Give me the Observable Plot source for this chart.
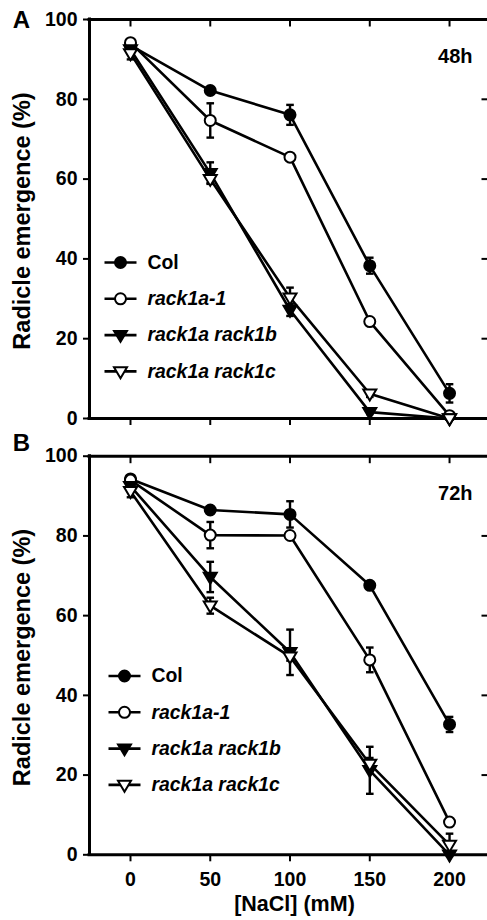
<!DOCTYPE html>
<html><head><meta charset="utf-8">
<script src="https://cdn.jsdelivr.net/npm/d3@7"></script>
<script src="https://cdn.jsdelivr.net/npm/@observablehq/plot@0.6"></script>
<style>
body{margin:0;background:#fff;}
#fig{position:relative;width:487px;height:920px;overflow:hidden;background:#fff;}
#fig svg{position:absolute;left:0;display:block;overflow:visible;}
</style></head><body><div id="fig"></div>
<script>
// ---- data ----
const nacl = [0, 50, 100, 150, 200];
const yTicks = [0, 20, 40, 60, 80, 100];
const genotypes = ["Col", "rack1a-1", "rack1a rack1b", "rack1a rack1c"];

// 48 h (panel A)
const col48      = [93.5, 82.2, 76.1, 38.3, 6.3];
const col48Err   = [1.0, 0.8, 2.5, 2.0, 2.3];
const r1a48      = [94.2, 74.7, 65.5, 24.3, 0.7];
const r1a48Err   = [0.8, 4.3, 0.8, 0.8, 0.5];
const r1ab48     = [92.5, 61.5, 27.2, 1.6, 0];
const r1ab48Err  = [1.0, 2.7, 1.5, 0.5, 0];
const r1ac48     = [91.5, 60.0, 30.3, 6.2, 0];
const r1ac48Err  = [1.5, 1.0, 2.5, 0.8, 0];

// 72 h (panel B)
const col72      = [94.3, 86.5, 85.4, 67.6, 32.7];
const col72Err   = [0.8, 0.8, 3.3, 0.8, 1.9];
const r1a72      = [94.0, 80.2, 80.1, 48.9, 8.2];
const r1a72Err   = [1.0, 3.3, 0.8, 3.1, 0.8];
const r1ab72     = [92.5, 69.7, 50.8, 21.2, 0];
const r1ab72Err  = [1.0, 3.8, 5.7, 5.9, 0];
const r1ac72     = [91.2, 62.5, 49.7, 22.8, 2.5];
const r1ac72Err  = [1.5, 2.0, 1.0, 1.5, 2.8];

const panelA = {letter: "A", time: "48h", values: [col48, r1a48, r1ab48, r1ac48], errors: [col48Err, r1a48Err, r1ab48Err, r1ac48Err]};
const panelB = {letter: "B", time: "72h", values: [col72, r1a72, r1ab72, r1ac72], errors: [col72Err, r1a72Err, r1ab72Err, r1ac72Err]};

// ---- styling ----
const FONT = "'Liberation Sans', Arial, sans-serif";
const W = 487, ML = 89;
const xDomain = [-25.7, 223.8];
const triDown = {draw(ctx) { ctx.moveTo(-6.5, -4.2); ctx.lineTo(6.5, -4.2); ctx.lineTo(0, 6.8); ctx.closePath(); }};
const circ = {draw(ctx) { ctx.moveTo(5.5, 0); ctx.arc(0, 0, 5.5, 0, 2 * Math.PI); ctx.closePath(); }};
const hCap = {draw(ctx) { ctx.moveTo(-3.8, 0); ctx.lineTo(3.8, 0); }};
const hSeg = {draw(ctx) { ctx.moveTo(-16, 0); ctx.lineTo(16, 0); }};
const tickDown = {draw(ctx) { ctx.moveTo(0, 0); ctx.lineTo(0, 7); }};
const tickLeft = {draw(ctx) { ctx.moveTo(0, 0); ctx.lineTo(-6, 0); }};
const symbols = [circ, circ, triDown, triDown];
const fills = ["black", "white", "black", "white"];

function panel(p, opt) {
  const rows = [];
  genotypes.forEach((g, gi) => nacl.forEach((c, ci) => rows.push({g, gi, c, v: p.values[gi][ci], e: p.errors[gi][ci]})));
  const marks = [];
  marks.push(Plot.ruleY([0, 100], {stroke: "black", strokeWidth: 3, strokeLinecap: "square"}));
  marks.push(Plot.ruleX([xDomain[0]], {y1: 0, y2: 100, stroke: "black", strokeWidth: 3, strokeLinecap: "square"}));
  marks.push(Plot.axisY({ticks: yTicks, tickSize: 6, tickFormat: () => "", label: null, strokeWidth: 2}));
  marks.push(Plot.axisX({ticks: nacl, tickSize: 7, tickFormat: () => "", label: null, strokeWidth: 2}));
  marks.push(Plot.text(yTicks, {x: () => xDomain[0], y: d => d, text: d => String(d), textAnchor: "end", lineAnchor: "middle", dx: -12, fontSize: 19.5, fontWeight: "bold", fill: "black"}));
  if (opt.xLabels) {
    marks.push(Plot.text(nacl, {x: d => d, y: () => 0, text: d => String(d), textAnchor: "middle", lineAnchor: "middle", dy: 25, fontSize: 19.5, fontWeight: "bold", fill: "black"}));
  }
  marks.push(Plot.dot(nacl, {x: d => d, y: () => 100, symbol: tickDown, stroke: "black", strokeWidth: 2, fill: "none"}));
  marks.push(Plot.dot(yTicks.slice(1, -1), {x: () => xDomain[1], y: d => d, symbol: tickLeft, stroke: "black", strokeWidth: 2, fill: "none"}));
  genotypes.forEach((g, gi) => {
    const r = rows.filter(d => d.gi === gi);
    marks.push(Plot.line(r, {x: "c", y: "v", stroke: "black", strokeWidth: 2.6, strokeLinejoin: "round"}));
  });
  genotypes.forEach((g, gi) => {
    const r = rows.filter(d => d.gi === gi && d.e > 0);
    marks.push(Plot.ruleX(r, {x: "c", y1: d => d.v - d.e, y2: d => d.v + d.e, stroke: "black", strokeWidth: 2.4}));
    marks.push(Plot.dot(r, {x: "c", y: d => d.v + d.e, symbol: hCap, stroke: "black", strokeWidth: 2.4, fill: "none"}));
    marks.push(Plot.dot(r, {x: "c", y: d => d.v - d.e, symbol: hCap, stroke: "black", strokeWidth: 2.4, fill: "none"}));
  });
  genotypes.forEach((g, gi) => {
    const r = rows.filter(d => d.gi === gi);
    marks.push(Plot.dot(r, {x: "c", y: "v", symbol: symbols[gi], fill: fills[gi], stroke: "black", strokeWidth: 2}));
  });
  genotypes.forEach((g, gi) => {
    const dy = opt.legY + gi * 36.3 - opt.mt;
    marks.push(Plot.dot([g], {frameAnchor: "top-left", dx: opt.legX - ML, dy, symbol: hSeg, stroke: "black", strokeWidth: 2.6, fill: "none"}));
    marks.push(Plot.dot([g], {frameAnchor: "top-left", dx: opt.legX - ML, dy, symbol: symbols[gi], fill: fills[gi], stroke: "black", strokeWidth: 2}));
    marks.push(Plot.text([g], {frameAnchor: "top-left", dx: opt.legX + 27 - ML, dy, text: d => d, textAnchor: "start", lineAnchor: "middle",
      fontSize: 19.4, fontWeight: "bold", fontStyle: gi === 0 ? "normal" : "italic", fill: "black"}));
  });
  marks.push(Plot.text([p.time], {frameAnchor: "top-right", dx: -15, dy: opt.timeDy, text: d => d, textAnchor: "end", lineAnchor: "middle", fontSize: 20, fontWeight: "bold", fill: "black"}));
  marks.push(Plot.text([p.letter], {frameAnchor: "top-left", dx: 21 - ML, dy: opt.letterY - opt.mt, text: d => d, textAnchor: "middle", lineAnchor: "middle", fontSize: 24, fontWeight: "bold", fill: "black"}));
  marks.push(Plot.text(["Radicle emergence (%)"], {frameAnchor: "left", dx: 22 - ML, dy: 2, rotate: -90, text: d => d, textAnchor: "middle", lineAnchor: "middle", fontSize: 23.5, fontWeight: "bold", fill: "black"}));
  if (opt.xLabels) {
    marks.push(Plot.text(["[NaCl] (mM)"], {frameAnchor: "bottom", dx: 6, dy: 49, text: d => d, textAnchor: "middle", lineAnchor: "middle", fontSize: 21.5, fontWeight: "bold", fill: "black"}));
  }
  const svg = Plot.plot({
    width: W, height: opt.h,
    marginLeft: ML, marginRight: 0, marginTop: opt.mt, marginBottom: opt.mb,
    x: {domain: xDomain},
    y: {domain: [0, 100]},
    style: {fontFamily: FONT, fontSize: "19px", fontWeight: "bold", color: "black", background: "transparent", overflow: "visible"},
    marks
  });
  svg.style.top = opt.top + "px";
  return svg;
}

const fig = document.getElementById("fig");
fig.appendChild(panel(panelA, {top: 0, h: 440, mt: 19, mb: 22, legX: 120, legY: 262, letterY: 20, timeDy: 37, xLabels: false}));
fig.appendChild(panel(panelB, {top: 440, h: 480, mt: 15.7, mb: 65.7, legX: 124, legY: 235.5, letterY: 3, timeDy: 37, xLabels: true}));
</script></body></html>
